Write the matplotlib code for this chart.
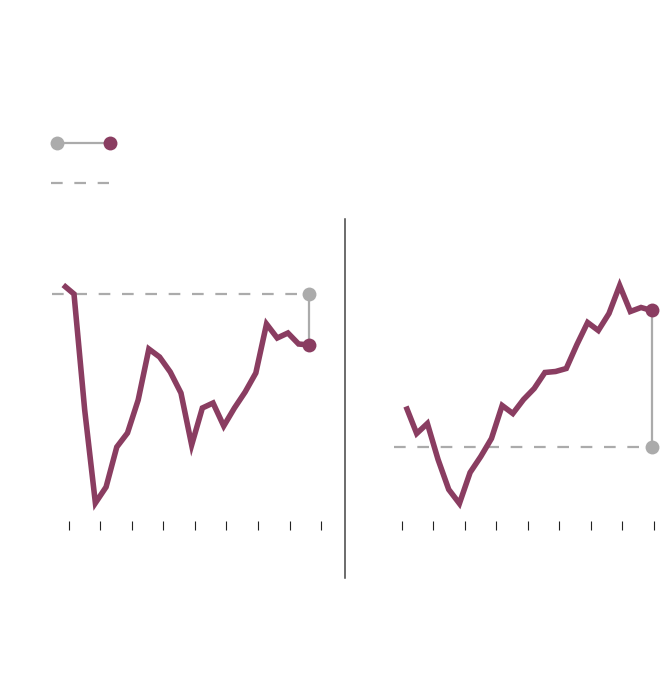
import numpy as np
import matplotlib
matplotlib.use("Agg")
import matplotlib.pyplot as plt
from matplotlib.lines import Line2D

plt.rcParams['lines.scale_dashes'] = False

# ---- data ----
left_x = list(range(24))
left_values = [100.9, 100.0, 88.4, 79.1, 80.7, 84.7, 86.1, 89.4, 94.5, 93.7,
               92.2, 90.1, 84.9, 88.6, 89.1, 86.8, 88.6, 90.2, 92.1, 97.0,
               95.6, 96.1, 95.0, 94.9]
left_baseline = 100.0
left_ticks = [0.5, 3.45, 6.4, 9.35, 12.3, 15.25, 18.2, 21.15, 24.1]

right_x = list(range(24))
right_values = [104.1, 101.4, 102.4, 98.8, 95.8, 94.4, 97.5, 99.1, 100.9, 104.2,
                103.4, 104.8, 105.9, 107.5, 107.6, 107.9, 110.3, 112.5, 111.7, 113.4,
                116.2, 113.6, 114.0, 113.7]
right_baseline = 100.0
right_ticks = [-0.4, 2.55, 5.5, 8.45, 11.4, 14.35, 17.3, 20.25, 23.2]

PURPLE = '#8a3d61'
GRAY = '#ababab'
DASH = (0, (8.4, 8.4))

W, H = 670, 678
fig = plt.figure(figsize=(W / 100, H / 100), dpi=100)

def px_axes(x0, y_top, x1, y_bottom):
    return fig.add_axes([x0 / W, 1 - y_bottom / H, (x1 - x0) / W, (y_bottom - y_top) / H])

def style(ax, ticks):
    for s in ax.spines.values():
        s.set_visible(False)
    ax.set_yticks([])
    ax.set_xticks(ticks)
    ax.set_xticklabels([])
    ax.tick_params(axis='x', direction='out', length=6.5, width=0.8, color='#222222')
    ax.patch.set_alpha(0)

def panel(ax, x, vals, base, ticks, xlim, ylim):
    ax.set_xlim(*xlim)
    ax.set_ylim(*ylim)
    style(ax, ticks)
    ax.plot([xlim[0], x[-1]], [base, base], color=GRAY, lw=1.6, linestyle=DASH, clip_on=False)
    ax.plot([x[-1], x[-1]], [base, vals[-1]], color=GRAY, lw=1.6, clip_on=False, zorder=2)
    ax.plot(x, vals, color=PURPLE, lw=4.0, solid_capstyle='butt', solid_joinstyle='miter',
            clip_on=False, zorder=3)
    ax.plot([x[-1]], [base], 'o', color=GRAY, ms=10, mew=0, clip_on=False, zorder=4)
    ax.plot([x[-1]], [vals[-1]], 'o', color=PURPLE, ms=10, mew=0, clip_on=False, zorder=4)

axL = px_axes(51.75, 219, 330.7, 521)
panel(axL, left_x, left_values, left_baseline, left_ticks, (-1.08, 25.0), (77.3, 107.5))

axR = px_axes(394.25, 219, 662.4, 521)
panel(axR, right_x, right_values, right_baseline, right_ticks, (-1.1, 24.0), (92.65, 122.85))

# divider
fig.add_artist(Line2D([345 / W, 345 / W], [1 - 219 / H, 1 - 578 / H], color='#444444', lw=1.1))

# legend
ly = 1 - 143.3 / H
fig.add_artist(Line2D([56.7 / W, 110 / W], [ly, ly], color=GRAY, lw=1.6))
fig.add_artist(Line2D([56.7 / W], [ly], marker='o', color=GRAY, ms=10, mew=0, lw=0))
fig.add_artist(Line2D([110 / W], [ly], marker='o', color=PURPLE, ms=10, mew=0, lw=0))
dy = 1 - 183.3 / H
fig.add_artist(Line2D([51 / W, 108.5 / W], [dy, dy], color=GRAY, lw=1.6, linestyle=DASH))

fig.savefig('out.png', dpi=100, facecolor='white')
